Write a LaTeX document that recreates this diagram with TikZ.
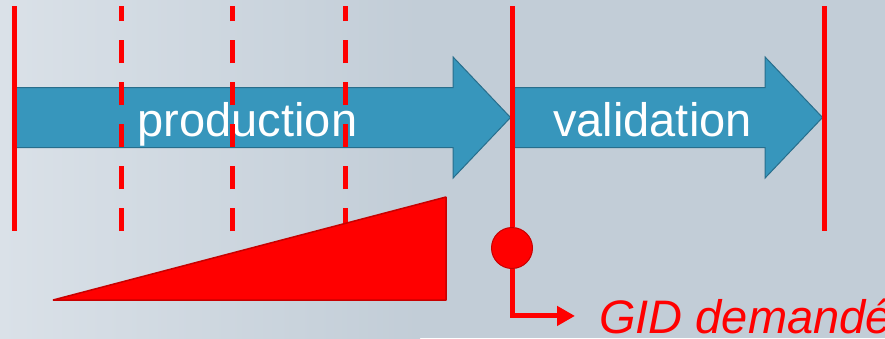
\documentclass[tikz,border=0pt]{standalone}
\usepackage{fontspec}
\setmainfont{Liberation Sans}
\usepackage{xcolor}
\usepackage{tikz}
\usetikzlibrary{shapes.arrows, arrows.meta, positioning}
\definecolor{phasecolor}{RGB}{55,150,188}
\definecolor{phaseborder}{RGB}{40,110,140}
\definecolor{bgcolor}{RGB}{194,205,215}
\definecolor{bglight}{RGB}{218,225,232}
\definecolor{markred}{RGB}{255,0,0}
\definecolor{darkred}{RGB}{200,0,0}

\begin{document}
\begin{tikzpicture}[
    x=1pt, y=-1pt,
    phase/.style={single arrow, draw=phaseborder, fill=phasecolor, line width=1pt, minimum width=120pt, single arrow head extend=30.5pt, single arrow tip angle=93, inner xsep=0pt, inner ysep=29.5pt, anchor=tail},
    phaselabel/.style={text=white, font=\fontsize{47}{50}\selectfont, anchor=base, inner sep=0pt},
    milestone/.style={draw=markred, line width=5pt},
    checkpoint/.style={draw=markred, line width=5pt, dash pattern=on 23pt off 19pt},
    arrow/.style={-{Triangle[length=18pt, width=19pt]}, draw=markred, line width=5pt}
]
    % Background
    \useasboundingbox (0,0) rectangle (885,338);
    \clip (0,0) rectangle (885,338);
    \fill[bgcolor] (0,0) rectangle (885,338);
    \shade[left color=bglight, right color=bgcolor] (0,0) rectangle (420,338);

    % Phases
    \node[phase, minimum height=498pt] (prod) at (12,117.5) {};
    \node[phase, minimum height=308pt] (valid) at (514,117.5) {};
    \node[phaselabel] (prodtext) at (247.5,136.5) {production};
    \node[phaselabel] (validtext) at (652.5,136.5) {validation};

    % Milestones
    \draw[milestone] (14,6) -- (14,231);
    \draw[milestone] (824,6) -- (824,231);
    \draw[checkpoint] (121,231) -- (121,6);
    \draw[checkpoint] (232,231) -- (232,6);
    \draw[checkpoint] (345,231) -- (345,6);

    % Workload ramp
    \draw[draw=darkred, fill=markred, line width=1.5pt, line join=bevel] (53,300) -- (446,300) -- (446,197) -- cycle;

    % GID request
    \node[circle, draw=darkred, fill=markred, line width=1pt, minimum size=41pt, inner sep=0pt] (gid) at (512,248) {};
    \node[font=\itshape\fontsize{47}{50}\selectfont, text=markred, anchor=base west, inner sep=0pt] (gidtext) at (599,333) {GID demandé};
    \draw[milestone] (512,6) -- (gid);
    \draw[arrow, shorten >=24pt] (gid) |- (gidtext.west);
\end{tikzpicture}
\end{document}
